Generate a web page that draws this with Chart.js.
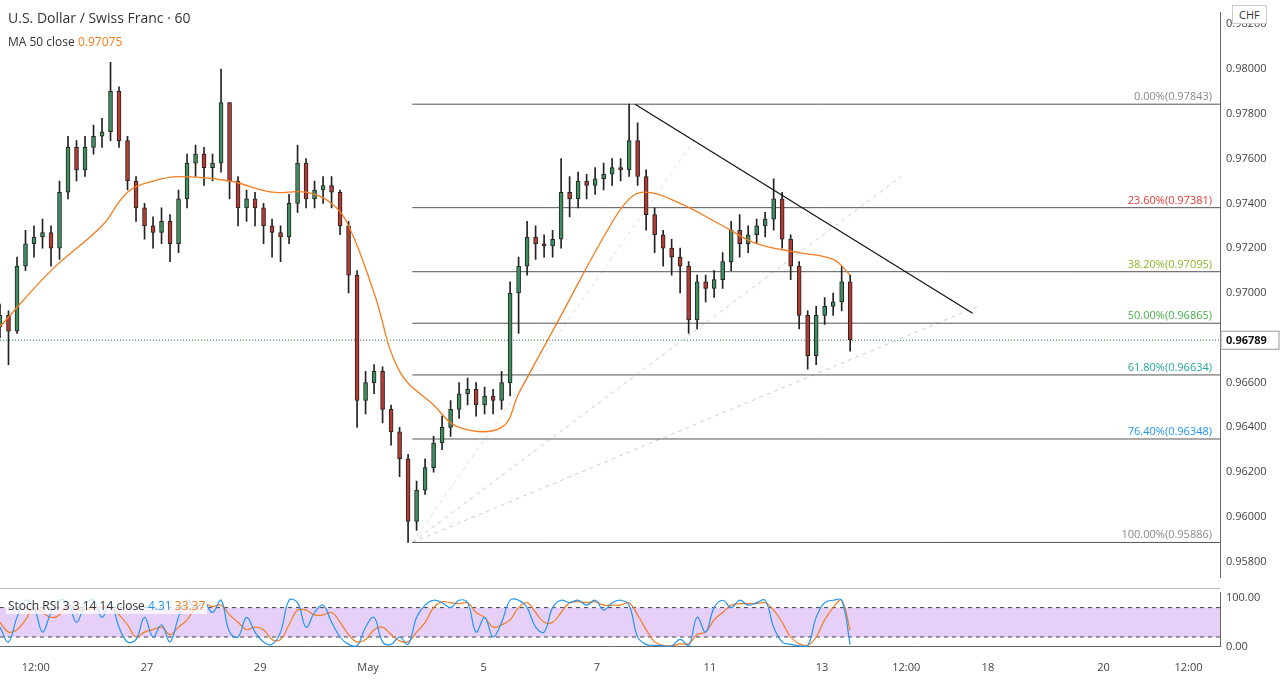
<!DOCTYPE html>
<html>
<head>
<meta charset="utf-8">
<script src="https://cdn.jsdelivr.net/npm/chart.js@4.4.0/dist/chart.umd.min.js"></script>
<style>
  body { margin: 0; background: #fff; font-family: "Open Sans", sans-serif; }
  #main { position: absolute; left: 0; top: 0; width: 1280px; height: 590px; }
  #stoch { position: absolute; left: 0; top: 580px; width: 1280px; height: 100px; }
  #sep { position: absolute; left: 0; top: 588px; width: 1220px; height: 1px; background: #bbb; }
  .lbl { position: absolute; font-size: 13px; color: #333; }
</style>
</head>
<body>
<div id="sep"></div>
<div id="main"><canvas id="mainChart"></canvas></div>
<div id="stoch"><canvas id="stochChart"></canvas></div>
<div class="lbl" style="left:8px;top:8px;font-size:14px;">U.S. Dollar / Swiss Franc · 60</div>
<div class="lbl" style="left:8px;top:33px;font-size:12px;">MA 50 close <span style="color:#f57c1f">0.97075</span></div>
<div class="lbl" style="left:6px;top:597px;font-size:12px;background:rgba(255,255,255,0.75);padding:0 2px;">Stoch RSI 3 3 14 14 close <span style="color:#2196f3">4.31</span> <span style="color:#f57c1f">33.37</span></div>
<div class="lbl" style="left:1232px;top:5px;font-size:11px;border:1px solid #ccc;background:#fff;padding:1px 6px;">CHF</div>
<script>
// hourly-ish candles, one every ~3.6 hours
const closes = [.9690,.9683,.9712,.9722,.9725,.9727,.9720,.9745,.9765,.9755,.9765,.9770,.9772,.9790,.9768,.9750,.9738,.9730,.9727,.9732,
.9722,.9742,.9758,.9762,.9756,.9758,.9785,.9750,.9738,.9742,.9738,.9730,.9727,.9725,.9740,.9758,.9742,.9746,.9748,.9745,
.9730,.9708,.9652,.9660,.9665,.9648,.9638,.9626,.9598,.9612,.9622,.9633,.9640,.9648,.9655,.9657,.9650,.9654,.9652,.9660,
.9700,.9712,.9725,.9722,.9721,.9724,.9745,.9742,.9750,.9748,.9751,.9753,.9756,.9755,.9768,.9752,.9735,.9726,.9720,.9716,
.9712,.9688,.9705,.9702,.9706,.9714,.9728,.9722,.9726,.9730,.9733,.9742,.9724,.9712,.9690,.9672,.9690,.9694,.9696,.9705,.9679];
const firstOpen = .9685;
const highs = [.9695,.9692,.9716,.9728,.9730,.9733,.9730,.9750,.9770,.9768,.9770,.9775,.9778,.9803,.9792,.9770,.9752,.9740,.9734,.9738,
.9735,.9746,.9762,.9766,.9765,.9762,.9800,.9785,.9752,.9746,.9745,.9740,.9733,.9730,.9744,.9766,.9760,.9750,.9752,.9752,
.9746,.9732,.9710,.9665,.9668,.9667,.9650,.9640,.9628,.9616,.9626,.9636,.9645,.9652,.9660,.9662,.9660,.9658,.9657,.9665,
.9705,.9716,.9732,.9730,.9726,.9728,.9760,.9752,.9754,.9753,.9756,.9758,.9760,.9760,.97843,.9776,.9755,.9738,.9728,.9724,
.9720,.9714,.9708,.9708,.9710,.9718,.9732,.9735,.9730,.9733,.9736,.9751,.9745,.9726,.9714,.9692,.9694,.9698,.9700,.9712,.9708];
const lows = [.9680,.9668,.9682,.9710,.9716,.9720,.9712,.9715,.9742,.9750,.9752,.9762,.9765,.9768,.9765,.9746,.9732,.9724,.9720,.9722,
.9714,.9718,.9738,.9752,.9748,.9750,.9754,.9742,.9730,.9732,.9730,.9722,.9716,.9714,.9722,.9736,.9738,.9738,.9740,.9738,
.9726,.9700,.9640,.9646,.9655,.9642,.9632,.9618,.95886,.9594,.9610,.9620,.9630,.9636,.9644,.9650,.9645,.9646,.9646,.9648,
.9654,.9682,.9708,.9715,.9716,.9716,.9720,.9734,.9738,.9742,.9744,.9746,.9748,.9750,.9752,.9748,.9728,.9718,.9712,.9708,
.9700,.9682,.9684,.9696,.9698,.9702,.9710,.9716,.9718,.9722,.9725,.9728,.9720,.9706,.9684,.9666,.9668,.9686,.9690,.9692,.9674];

const maIdx = [0,6,12,15,18,21,27,32,36,39,41,44,47,51,54,59,61,66,71,74,76,80,85,89,94,98,100];
const maVal = [.9685,.9710,.9730,.9745,.9750,.9752,.9750,.9745,.9745,.9740,.9730,.9700,.9665,.9650,.9640,.9640,.9655,.9690,.9725,.9742,.9745,.9740,.9730,.9722,.9718,.9715,.9708];

const stochK = [40,10,60,95,80,30,70,95,90,50,85,95,60,90,40,10,15,60,20,45,10,60,95,80,90,70,95,30,20,60,
30,10,5,30,95,90,40,70,85,50,20,5,2,40,60,10,5,20,5,60,85,95,90,80,95,90,30,60,20,50,
95,95,80,40,30,80,95,90,95,85,95,75,90,95,85,20,5,3,2,2,15,2,60,30,80,95,80,95,85,90,95,40,10,5,2,2,60,90,95,95,4.31];
const stochD = [50,30,35,55,80,70,60,65,85,78,75,80,80,80,65,45,20,30,35,40,25,40,55,80,88,82,85,65,50,35,
40,35,15,15,45,75,75,65,65,70,50,25,10,15,35,40,25,12,10,30,50,80,92,90,88,90,70,60,40,45,
55,80,90,70,50,50,70,90,92,90,92,85,85,85,90,65,35,10,3,2,6,6,25,30,55,70,85,88,88,88,90,75,50,20,6,3,20,55,80,95,33.37];

const fibLevels = [0.97843,0.97381,0.97095,0.96865,0.96634,0.96348,0.95886];
const fibNames = ["0.00%","23.60%","38.20%","50.00%","61.80%","76.40%","100.00%"];
const fibColors = ["#888","#e53935","#8bb82b","#4caf50","#26a69a","#2196f3","#888"];
const fibStart = 48.5, fibEnd = 143.5;
const trendLine = [{x:74.7,y:0.97843},{x:114.4,y:0.9691}];
const fanA = [{x:48.5,y:0.95886},{x:106,y:0.9752}];
const fanB = [{x:48.5,y:0.95886},{x:115,y:0.9694}];
const fanC = [{x:48.5,y:0.95886},{x:82,y:0.9770}];
const lastPrice = 0.96789;

const tickPos = [4.2,17.3,30.6,43.3,56.9,70.2,83.5,96.7,106.6,116.2,129.8,139.8];
const tickLabels = ["12:00","27","29","May","5","7","11","13","12:00","18","20","12:00"];

const xMin = 0, xMax = 143.5;
const axisFont = { family: "Open Sans", size: 11 };

const opens = closes.map((c, i) => i === 0 ? firstOpen : closes[i - 1]);
const up = closes.map((c, i) => c >= opens[i]);
const wicks = closes.map((c, i) => ({ x: i, y: [lows[i], highs[i]] }));
const bodies = closes.map((c, i) => ({ x: i, y: [opens[i], c === opens[i] ? c + 0.00002 : c] }));

const fixWidth = (s) => { s.width = 60; };

const fibDatasets = fibLevels.map((v, i) => ({
    type: "line", data: [{x: fibStart, y: v}, {x: fibEnd, y: v}],
    borderColor: "#555", borderWidth: 1, pointRadius: 0, order: 5
}));

const fibLabels = {
    id: "fibLabels",
    afterDatasetsDraw(chart) {
        const ctx = chart.ctx, y = chart.scales.y, x = chart.scales.x;
        ctx.save();
        ctx.font = "11px Open Sans";
        ctx.textAlign = "right";
        fibLevels.forEach((v, i) => {
            ctx.fillStyle = fibColors[i];
            ctx.fillText(fibNames[i] + "(" + v.toFixed(5) + ")", x.right - 8, y.getPixelForValue(v) - 4);
        });
        // last price tag
        const py = y.getPixelForValue(lastPrice);
        ctx.fillStyle = "#fff";
        ctx.strokeStyle = "#999";
        ctx.fillRect(x.right + 1, py - 9, 58, 18);
        ctx.strokeRect(x.right + 1, py - 9, 58, 18);
        ctx.fillStyle = "#111";
        ctx.font = "bold 11px Open Sans";
        ctx.textAlign = "left";
        ctx.fillText(lastPrice.toFixed(5), x.right + 6, py + 4);
        ctx.restore();
    }
};

new Chart(document.getElementById("mainChart"), {
    type: "bar",
    data: {
        datasets: [
            { data: wicks, backgroundColor: "#222", barThickness: 1, order: 3, grouped: false },
            { data: bodies, backgroundColor: up.map(u => u ? "#3f8f5e" : "#b53a32"),
              borderColor: "#222", borderWidth: 1, borderSkipped: false, barThickness: 4, order: 2, grouped: false },
            { type: "line", data: maIdx.map((x, i) => ({x, y: maVal[i]})), borderColor: "#f57c1f",
              borderWidth: 1.3, pointRadius: 0, tension: 0.4, order: 1 },
            ...fibDatasets,
            { type: "line", data: trendLine, borderColor: "#111", borderWidth: 1.2, pointRadius: 0, order: 1 },
            { type: "line", data: fanA, borderColor: "#ccc", borderDash: [4, 4], borderWidth: 1, pointRadius: 0, order: 6 },
            { type: "line", data: fanB, borderColor: "#ccc", borderDash: [4, 4], borderWidth: 1, pointRadius: 0, order: 6 },
            { type: "line", data: fanC, borderColor: "#ddd", borderDash: [4, 4], borderWidth: 1, pointRadius: 0, order: 6 },
            { type: "line", data: [{x: xMin, y: lastPrice}, {x: xMax, y: lastPrice}], borderColor: "#2e7d32",
              borderDash: [1, 2], borderWidth: 1, pointRadius: 0, order: 7 }
        ]
    },
    options: {
        responsive: true, maintainAspectRatio: false, animation: false,
        layout: { padding: 0 },
        plugins: { legend: { display: false }, tooltip: { enabled: false } },
        scales: {
            x: { type: "linear", min: xMin, max: xMax, offset: false, display: false },
            y: {
                position: "right", min: 0.95730, max: 0.98252, afterFit: fixWidth,
                grid: { display: false, drawTicks: false },
                border: { color: "#666" },
                afterBuildTicks: (s) => { s.ticks = [.958,.960,.962,.964,.966,.968,.970,.972,.974,.976,.978,.980,.982].map(v => ({value: v})); },
                ticks: { color: "#444", font: axisFont, padding: 6, callback: v => v.toFixed(5) }
            }
        }
    },
    plugins: [fibLabels]
});

const band = {
    id: "band",
    beforeDatasetsDraw(chart) {
        const ctx = chart.ctx, y = chart.scales.y, x = chart.scales.x;
        ctx.save();
        ctx.fillStyle = "rgba(200,150,240,0.45)";
        const t = y.getPixelForValue(80), b = y.getPixelForValue(20);
        ctx.fillRect(x.left, t, x.right - x.left, b - t);
        ctx.strokeStyle = "#444";
        ctx.setLineDash([4, 4]);
        ctx.beginPath();
        ctx.moveTo(x.left, t); ctx.lineTo(x.right, t);
        ctx.moveTo(x.left, b); ctx.lineTo(x.right, b);
        ctx.stroke();
        ctx.restore();
    }
};

new Chart(document.getElementById("stochChart"), {
    type: "line",
    data: {
        datasets: [
            { data: stochK.map((v, i) => ({x: i, y: v})), borderColor: "#2196f3", borderWidth: 1.2, pointRadius: 0, tension: 0.4, clip: false },
            { data: stochD.map((v, i) => ({x: i, y: v})), borderColor: "#f57c1f", borderWidth: 1.2, pointRadius: 0, tension: 0.4, clip: false }
        ]
    },
    options: {
        responsive: true, maintainAspectRatio: false, animation: false,
        layout: { padding: 0 },
        plugins: { legend: { display: false }, tooltip: { enabled: false } },
        scales: {
            x: {
                type: "linear", min: xMin, max: xMax,
                grid: { display: false }, border: { color: "#666" },
                afterBuildTicks: (s) => { s.ticks = tickPos.map(v => ({value: v})); },
                ticks: { color: "#444", font: axisFont, maxRotation: 0, autoSkip: false, padding: 6,
                         callback: (v) => tickLabels[tickPos.indexOf(v)] }
            },
            y: {
                position: "right", min: 0, max: 110.6, afterFit: fixWidth,
                grid: { display: false, drawTicks: false }, border: { color: "#666" },
                afterBuildTicks: (s) => { s.ticks = [0, 100].map(v => ({value: v})); },
                ticks: { color: "#444", font: axisFont, padding: 6, callback: v => v.toFixed(2) }
            }
        }
    },
    plugins: [band]
});
</script>
</body>
</html>
